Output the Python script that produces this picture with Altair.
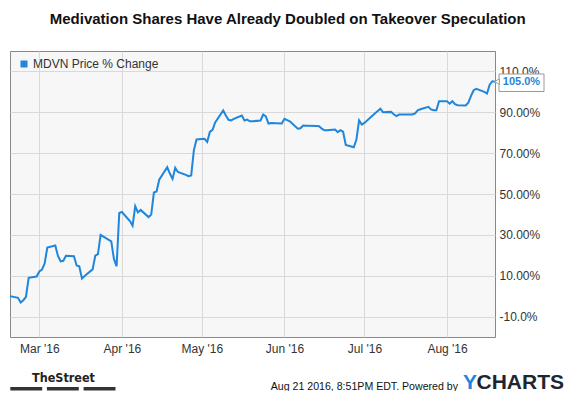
import altair as alt
import pandas as pd

# ---- data ----
dates = [
    "2016-02-19", "2016-02-22", "2016-02-23", "2016-02-24", "2016-02-25", "2016-02-26", "2016-02-29",
    "2016-03-01", "2016-03-02", "2016-03-03", "2016-03-04", "2016-03-07", "2016-03-08", "2016-03-09",
    "2016-03-10", "2016-03-11", "2016-03-14", "2016-03-15", "2016-03-16", "2016-03-17", "2016-03-18",
    "2016-03-21", "2016-03-22", "2016-03-23", "2016-03-24", "2016-03-28", "2016-03-29", "2016-03-30",
    "2016-03-31", "2016-04-01", "2016-04-04", "2016-04-05", "2016-04-06", "2016-04-07", "2016-04-08",
    "2016-04-11", "2016-04-12", "2016-04-13", "2016-04-14", "2016-04-15", "2016-04-18", "2016-04-19",
    "2016-04-20", "2016-04-21", "2016-04-22", "2016-04-25", "2016-04-26", "2016-04-27", "2016-04-28",
    "2016-04-29", "2016-05-02", "2016-05-03", "2016-05-04", "2016-05-05", "2016-05-06", "2016-05-09",
    "2016-05-10", "2016-05-11", "2016-05-12", "2016-05-13", "2016-05-16", "2016-05-17", "2016-05-18",
    "2016-05-19", "2016-05-20", "2016-05-23", "2016-05-24", "2016-05-25", "2016-05-26", "2016-05-27",
    "2016-05-31", "2016-06-01", "2016-06-02", "2016-06-03", "2016-06-06", "2016-06-07", "2016-06-08",
    "2016-06-09", "2016-06-10", "2016-06-13", "2016-06-14", "2016-06-15", "2016-06-16", "2016-06-17",
    "2016-06-20", "2016-06-21", "2016-06-22", "2016-06-23", "2016-06-24", "2016-06-27", "2016-06-28",
    "2016-06-29", "2016-06-30", "2016-07-01", "2016-07-05", "2016-07-06", "2016-07-07", "2016-07-08",
    "2016-07-11", "2016-07-12", "2016-07-13", "2016-07-14", "2016-07-15", "2016-07-18", "2016-07-19",
    "2016-07-20", "2016-07-21", "2016-07-22", "2016-07-25", "2016-07-26", "2016-07-27", "2016-07-28",
    "2016-07-29", "2016-08-01", "2016-08-02", "2016-08-03", "2016-08-04", "2016-08-05", "2016-08-08",
    "2016-08-09", "2016-08-10", "2016-08-11", "2016-08-12", "2016-08-15", "2016-08-16", "2016-08-17",
    "2016-08-18", "2016-08-19",
]
values = [
    0.0, -0.8, -3.1, -2.0, -0.3, 9.0, 9.6,
    12.1, 13.0, 16.0, 23.8, 24.8, 19.7, 17.0,
    17.3, 19.8, 19.5, 15.0, 14.6, 8.6, 9.9,
    13.1, 19.8, 20.6, 30.0, 26.8, 18.2, 14.6,
    40.7, 41.2, 36.8, 34.5, 44.0, 41.0, 42.2,
    38.7, 39.9, 50.7, 51.2, 57.0, 63.1, 60.0,
    57.4, 62.8, 60.8, 59.4, 58.7, 59.1, 71.5,
    76.7, 77.0, 75.5, 80.4, 81.4, 85.0, 90.9,
    88.4, 86.3, 86.0, 86.8, 88.4, 86.0, 86.4,
    85.6, 85.6, 86.0, 88.9, 88.0, 84.5, 84.8,
    84.5, 86.8, 86.2, 85.6, 82.0, 82.2, 83.5,
    83.4, 83.4, 83.3, 83.2, 82.0, 81.2, 81.2,
    81.6, 80.3, 81.2, 80.5, 74.0, 72.9, 76.7,
    86.1, 84.0, 84.8, 89.5, 90.6, 91.7, 90.0,
    90.2, 89.0, 88.1, 88.9, 88.9, 88.9, 88.9,
    89.5, 91.0, 91.5, 92.7, 91.4, 91.0, 91.0,
    95.4, 95.4, 94.2, 95.4, 94.0, 93.5, 93.3,
    94.7, 98.0, 100.8, 101.5, 100.0, 99.2, 103.5,
    105.2, 105.0,
]
tick_months = [3, 4, 5, 6, 7, 8]
y_ticks = [-10, 10, 30, 50, 70, 90, 110]
title_text = "Medivation Shares Have Already Doubled on Takeover Speculation"
series_name = "MDVN Price % Change"
last_value = 105.0
last_label = "105.0%"
footer_text = "Aug 21 2016, 8:51PM EDT.  Powered by"
brand_left = "TheStreet"

BLUE = "#1f86dc"
FONT = "Liberation Sans"

df = pd.DataFrame({"date": dates, "pct": values})
one = pd.DataFrame({"k": [0]})

x_enc = alt.X(
    "date:T",
    scale=alt.Scale(
        type="utc",
        domain=[alt.DateTime(year=2016, month=2, date=19, utc=True),
                alt.DateTime(year=2016, month=8, date=19, utc=True)],
    ),
    axis=alt.Axis(
        values=[alt.DateTime(year=2016, month=m, date=1, utc=True) for m in tick_months],
        labelExpr="utcFormat(datum.value, \"%b '%y\")",
        title=None, ticks=False, domain=False,
        grid=True, gridColor="#d9d9d9", gridWidth=1,
        labelFont=FONT, labelFontSize=12, labelColor="#333333", labelPadding=6,
    ),
)
y_enc = alt.Y(
    "pct:Q",
    scale=alt.Scale(domain=[-20, 120], nice=False, zero=False),
    axis=alt.Axis(
        orient="right", values=y_ticks, title=None, ticks=False, domain=False,
        grid=True, gridColor="#d9d9d9", gridWidth=1,
        labelExpr="datum.value == -10 ? '-10.0%' : datum.value == 110 ? '110.0%' : format(datum.value, '.2f') + '%'",
        labelFont=FONT, labelFontSize=12, labelColor="#333333", labelPadding=4, labelAlign="left",
    ),
)

line = alt.Chart(df).mark_line(color=BLUE, strokeWidth=2).encode(x=x_enc, y=y_enc)

def txt(text, x, y, size=12, weight="normal", color="#333333", align="left", font=FONT):
    return alt.Chart(one).mark_text(
        text=text, fontSize=size, fontWeight=weight, color=color, align=align,
        baseline="middle", font=font,
    ).encode(x=alt.value(x), y=alt.value(y))

title = txt(title_text, 277.7, -32, size=15, weight="bold", color="#111111", align="center")
legend_sq = alt.Chart(one).mark_square(size=49, color=BLUE, opacity=1).encode(
    x=alt.value(14), y=alt.value(13))
legend_txt = txt(series_name, 23, 13)

box = alt.Chart(one).mark_rect(fill="white", stroke="#9a9a9a", strokeWidth=1).encode(
    x=alt.value(489), x2=alt.value(534), y=alt.value(23), y2=alt.value(40.5))
pointer = alt.Chart(one).mark_point(shape="triangle-left", size=30, filled=True, color="white",
                                    stroke="#9a9a9a", strokeWidth=1, opacity=1).encode(
    x=alt.value(487), y=alt.datum(last_value))
box_txt = alt.Chart(one).mark_text(text=last_label, fontSize=11, fontWeight="bold", color=BLUE,
                                   align="center", baseline="middle", font=FONT).encode(
    x=alt.value(511.5), y=alt.datum(last_value))

street = txt(brand_left, 53.5, 326.5, size=12.5, weight="bold", color="#222222", align="center",
             font="DejaVu Sans Condensed")
bars = [
    alt.Chart(one).mark_rect(color="#333333").encode(
        x=alt.value(a), x2=alt.value(b), y=alt.value(336), y2=alt.value(339.5))
    for a, b in [(0.3, 32.2), (36.9, 68.8), (73.6, 105.5)]
]
footer = txt(footer_text, 448, 336, size=10.6, color="#111111", align="right")
yletter = txt("Y", 453, 331.5, size=21, weight="bold", color=BLUE, align="left")
charts = txt("CHARTS", 554, 331.5, size=21, weight="bold", color="#1d2733", align="right")

chart = alt.layer(
    line, title, legend_sq, legend_txt, box, pointer, box_txt, street, *bars,
    footer, yletter, charts,
).properties(
    width=485, height=286,
    autosize=alt.AutoSizeParams(type="none"),
    padding={"left": 2, "top": 43, "right": 72, "bottom": 54},
).configure_view(fill="#f7f7f7", stroke="#888888", strokeWidth=1)

chart.save("out.html", embed_options={"renderer": "svg", "actions": False})
